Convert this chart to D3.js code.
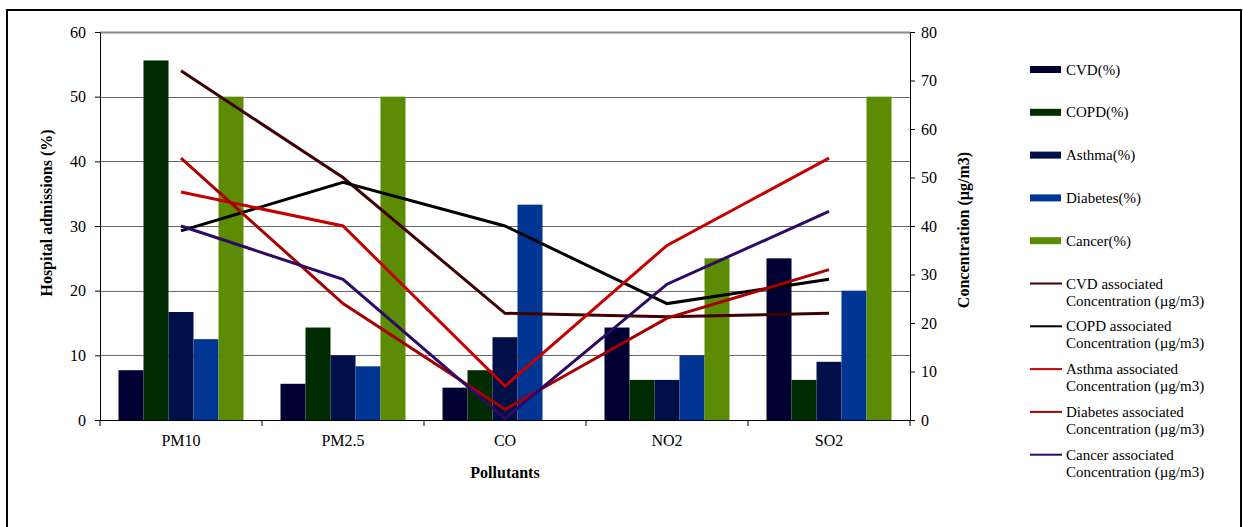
<!DOCTYPE html>
<html>
<head>
<meta charset="utf-8">
<script src="https://cdn.jsdelivr.net/npm/d3@7"></script>
<style>
  html, body { margin: 0; padding: 0; background: #fff; }
  svg { display: block; }
  text { font-family: "Liberation Serif", "Times New Roman", serif; fill: #000; }
</style>
</head>
<body>
<svg id="chart" width="1243" height="527"></svg>
<script>
// Pollutants on the category axis
const categories = ["PM10", "PM2.5", "CO", "NO2", "SO2"];

// Hospital admissions (%) per disease — bars, left axis
const cvdPct      = [7.7, 5.6, 5.0, 14.3, 25.0];
const copdPct     = [55.6, 14.3, 7.7, 6.2, 6.2];
const asthmaPct   = [16.7, 10.0, 12.8, 6.2, 9.0];
const diabetesPct = [12.5, 8.3, 33.3, 10.0, 20.0];
const cancerPct   = [50.0, 50.0, 0.0, 25.0, 50.0];

// Associated concentration (µg/m3) per disease — lines, right axis
const cvdConc      = [72, 50, 22, 21.3, 22];
const copdConc     = [39, 49, 40, 24, 29];
const asthmaConc   = [47, 40, 7, 36, 54];
const diabetesConc = [54, 24, 2.2, 21, 31];
const cancerConc   = [40, 29, 0.3, 28, 43];

// Axis ticks
const leftTicks  = [0, 10, 20, 30, 40, 50, 60];
const rightTicks = [0, 10, 20, 30, 40, 50, 60, 70, 80];

const barSeries = [
  { name: "CVD(%)",      values: cvdPct,      color: "#000033" },
  { name: "COPD(%)",     values: copdPct,     color: "#002a00" },
  { name: "Asthma(%)",   values: asthmaPct,   color: "#000f47" },
  { name: "Diabetes(%)", values: diabetesPct, color: "#003594" },
  { name: "Cancer(%)",   values: cancerPct,   color: "#5c8c04" }
];
const lineSeries = [
  { name: ["CVD associated", "Concentration (µg/m3)"],      values: cvdConc,      color: "#3f0000" },
  { name: ["COPD associated", "Concentration (µg/m3)"],     values: copdConc,     color: "#000000" },
  { name: ["Asthma associated", "Concentration (µg/m3)"],   values: asthmaConc,   color: "#c40000" },
  { name: ["Diabetes associated", "Concentration (µg/m3)"], values: diabetesConc, color: "#a60000" },
  { name: ["Cancer associated", "Concentration (µg/m3)"],   values: cancerConc,   color: "#2e0a66" }
];

const svg = d3.select("#chart");

// outer frame
svg.append("rect")
  .attr("x", 7).attr("y", 10).attr("width", 1234).attr("height", 530)
  .attr("fill", "none").attr("stroke", "#000").attr("stroke-width", 2);

const plot = { left: 100, right: 910, top: 32, bottom: 420 };

const x0 = d3.scaleBand().domain(categories).range([plot.left, plot.right]).padding(0);
const x1 = d3.scaleBand().domain(barSeries.map(d => d.name))
  .range([0, x0.bandwidth()]).paddingInner(0).paddingOuter(0.74);
const yL = d3.scaleLinear().domain([0, 60]).range([plot.bottom, plot.top]);
const yR = d3.scaleLinear().domain([0, 80]).range([plot.bottom, plot.top]);

// horizontal gridlines
svg.append("g").selectAll("line")
  .data(leftTicks.filter(t => t > 0))
  .join("line")
  .attr("x1", plot.left).attr("x2", plot.right)
  .attr("y1", d => Math.round(yL(d)) + 0.5).attr("y2", d => Math.round(yL(d)) + 0.5)
  .attr("stroke", d => d === 60 ? "#8a8a8a" : "#6a6a6a")
  .attr("stroke-width", d => d === 60 ? 2 : 1);

// bars
const groups = svg.append("g").selectAll("g")
  .data(categories)
  .join("g")
  .attr("transform", d => `translate(${x0(d)},0)`);

groups.selectAll("rect")
  .data((c, i) => barSeries.map(s => ({ s, v: s.values[i] })))
  .join("rect")
  .attr("x", d => x1(d.s.name))
  .attr("width", x1.bandwidth())
  .attr("y", d => yL(d.v))
  .attr("height", d => yL(0) - yL(d.v))
  .attr("fill", d => d.s.color);

// lines
const lineGen = d3.line()
  .x((d, i) => x0(categories[i]) + x0.bandwidth() / 2)
  .y(d => yR(d));

svg.append("g").selectAll("path")
  .data(lineSeries)
  .join("path")
  .attr("d", d => lineGen(d.values))
  .attr("fill", "none")
  .attr("stroke", d => d.color)
  .attr("stroke-width", 3)
  .attr("stroke-linejoin", "miter");

// axes
const axisStyle = g => {
  g.selectAll("path.domain").attr("stroke", "#000");
  g.selectAll(".tick line").attr("stroke", "#000");
  g.selectAll("text").attr("font-family", "Liberation Serif, serif").attr("font-size", 16).attr("fill", "#000");
};

svg.append("g")
  .attr("transform", `translate(${plot.left},0)`)
  .call(d3.axisLeft(yL).tickValues(leftTicks).tickSize(5).tickSizeOuter(0).tickPadding(9))
  .call(axisStyle);

svg.append("g")
  .attr("transform", `translate(${plot.right},0)`)
  .call(d3.axisRight(yR).tickValues(rightTicks).tickSize(5).tickSizeOuter(0).tickPadding(6))
  .call(axisStyle);

// category axis: ticks at group boundaries, labels centred in groups
const xAxis = svg.append("g").attr("transform", `translate(0,${plot.bottom})`);
xAxis.append("line")
  .attr("x1", plot.left).attr("x2", plot.right)
  .attr("y1", 0.5).attr("y2", 0.5).attr("stroke", "#000");
const bounds = categories.map(c => x0(c)).concat([plot.right]);
xAxis.selectAll("line.tk")
  .data(bounds)
  .join("line").attr("class", "tk")
  .attr("x1", d => d).attr("x2", d => d)
  .attr("y1", 0).attr("y2", 6).attr("stroke", "#000");
xAxis.selectAll("text")
  .data(categories)
  .join("text")
  .attr("x", d => x0(d) + x0.bandwidth() / 2)
  .attr("y", 26)
  .attr("text-anchor", "middle")
  .attr("font-size", 16)
  .text(d => d);

// axis titles
svg.append("text")
  .attr("x", 505).attr("y", 478)
  .attr("text-anchor", "middle")
  .attr("font-size", 16).attr("font-weight", "bold")
  .text("Pollutants");

svg.append("text")
  .attr("transform", "translate(52,213) rotate(-90)")
  .attr("text-anchor", "middle")
  .attr("font-size", 16).attr("font-weight", "bold")
  .text("Hospital admissions (%)");

svg.append("text")
  .attr("transform", "translate(969,230) rotate(-90)")
  .attr("text-anchor", "middle")
  .attr("font-size", 16).attr("font-weight", "bold")
  .text("Concentration (µg/m3)");

// legend
const legend = svg.append("g");
const legX = 1030, legTextX = 1066, legTop = 69.5, legStep = 42.8;

barSeries.forEach((s, i) => {
  const cy = legTop + i * legStep;
  legend.append("rect")
    .attr("x", legX).attr("y", cy - 3.5).attr("width", 31).attr("height", 7)
    .attr("fill", s.color);
  legend.append("text")
    .attr("x", legTextX).attr("y", cy + 5)
    .attr("font-size", 15)
    .text(s.name);
});

lineSeries.forEach((s, i) => {
  const cy = legTop + (i + 5) * legStep;
  legend.append("line")
    .attr("x1", legX).attr("x2", legX + 32)
    .attr("y1", cy).attr("y2", cy)
    .attr("stroke", s.color).attr("stroke-width", 2);
  legend.append("text")
    .attr("x", legTextX).attr("y", cy + 5)
    .attr("font-size", 15)
    .text(s.name[0]);
  legend.append("text")
    .attr("x", legTextX).attr("y", cy + 22)
    .attr("font-size", 15)
    .text(s.name[1]);
});
</script>
</body>
</html>
